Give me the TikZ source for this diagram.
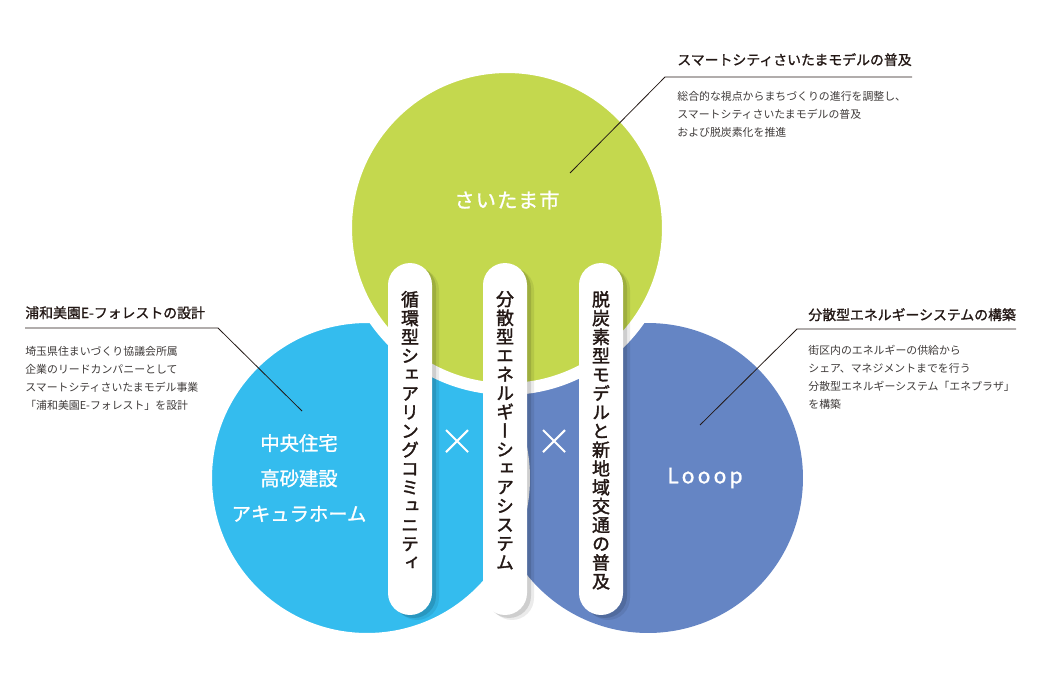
\documentclass[tikz,border=0pt]{standalone}
\usepackage{fontspec}
\setmainfont{Noto Sans CJK JP}
\newfontfamily\vjp[RawFeature=+vert, FakeBold=1.8]{Noto Sans CJK JP}
\newfontfamily\mjp[FakeBold=1.2]{Noto Sans CJK JP}
\usepackage{tikz}
\usetikzlibrary{positioning}
\usetikzlibrary{shapes}

\definecolor{cityGreen}{HTML}{C4D84E}
\definecolor{skyBlue}{HTML}{34BCEE}
\definecolor{looopBlue}{HTML}{6585C4}
\definecolor{textDark}{HTML}{231815}
\definecolor{textGray}{HTML}{3E3A39}

\begin{document}
\begin{tikzpicture}[x=0.02cm, y=-0.02cm]
	\tikzstyle{circ}=[circle, inner sep=0pt]
	\tikzstyle{pill}=[fill=white, rounded corners=0.44cm, minimum width=0.88cm, minimum height=7.04cm,
		preaction={fill=black, opacity=0.08, transform canvas={shift={(7,5)}}},
		preaction={fill=black, opacity=0.12, transform canvas={shift={(4,3)}}}]
	\tikzstyle{pillText}=[align=center, inner sep=0pt, text=textDark, font=\vjp\fontsize{10.2}{10.7}\selectfont]
	\tikzstyle{head}=[inner sep=0pt, anchor=base west, text=textDark, font=\mjp\fontsize{7.9}{9}\selectfont]
	\tikzstyle{body}=[inner sep=0pt, anchor=north west, align=left, text=textGray, font=\fontsize{6.2}{10.2}\selectfont]
	\tikzstyle{circLabel}=[text=white, font=\mjp\fontsize{11}{20.1}\selectfont]
	\tikzstyle{callout}=[draw=textDark, line width=0.45pt]
	\tikzstyle{times}=[white, line width=1.2pt]
	\useasboundingbox (0,0) rectangle (1040,680);

	% circles
	\node[circ, fill=looopBlue, minimum size=6.2cm] (looop) at (648,478) {};
	\node[circ, fill=skyBlue, draw=white, line width=0.16cm, minimum size=6.36cm] (chuo) at (367,478) {};
	\node[circ, fill=cityGreen, draw=white, line width=0.24cm, minimum size=6.44cm] (saitama) at (507,228) {};

	\node[circLabel, font={\mjp\fontsize{11.5}{14}\selectfont\addfontfeature{LetterSpace=6}}] (saitamaLabel) at (507,200) {さいたま市};
	\node[circLabel, align=center] (chuoLabel) at (299,478) {中央住宅\\高砂建設\\アキュラホーム};
	\node[circLabel, font={\mjp\fontsize{12}{14}\selectfont\addfontfeature{LetterSpace=15}}] (looopLabel) at (705,478) {Looop};

	% pills
	\node[pill] (pillA) at (410,439) {};
	\node[pill] (pillB) at (505,439) {};
	\node[pill] (pillC) at (601,439) {};
	\node[pillText, below=0.56cm of pillA.north] (pillAText) {循\\環\\型\\シ\\ェ\\ア\\リ\\ン\\グ\\コ\\ミ\\ュ\\ニ\\テ\\ィ};
	\node[pillText, below=0.56cm of pillB.north] (pillBText) {分\\散\\型\\エ\\ネ\\ル\\ギ\\ー\\シ\\ェ\\ア\\シ\\ス\\テ\\ム};
	\node[pillText, below=0.56cm of pillC.north] (pillCText) {脱\\炭\\素\\型\\モ\\デ\\ル\\と\\新\\地\\域\\交\\通\\の\\普\\及};

	\draw[times] (457,441) +(-11,-11) -- +(11,11) +(-11,11) -- +(11,-11);
	\draw[times] (554,441) +(-11,-11) -- +(11,11) +(-11,11) -- +(11,-11);

	% callouts
	\coordinate (topEnd) at (570,173);
	\coordinate (topKnee) at (665,77);
	\node[head] (topHead) at (677,65) {スマートシティさいたまモデルの普及};
	\node[body] (topBody) at (677,91) {総合的な視点からまちづくりの進行を調整し、\\スマートシティさいたまモデルの普及\\および脱炭素化を推進};
	\draw[callout] (topEnd) -- (topKnee) -- (topKnee -| topHead.east);

	\coordinate (leftEnd) at (302,411);
	\coordinate (leftKnee) at (218,328);
	\node[head] (leftHead) at (25,318) {浦和美園E-フォレストの設計};
	\node[body] (leftBody) at (25,346) {埼玉県住まいづくり協議会所属\\企業のリードカンパニーとして\\スマートシティさいたまモデル事業\\「浦和美園E-フォレスト」を設計};
	\draw[callout] (leftEnd) -- (leftKnee) -- (leftKnee -| leftHead.west);

	\coordinate (rightEnd) at (700,425);
	\coordinate (rightKnee) at (797,329);
	\node[head] (rightHead) at (808,320) {分散型エネルギーシステムの構築};
	\node[body] (rightBody) at (808,345) {街区内のエネルギーの供給から\\シェア、マネジメントまでを行う\\分散型エネルギーシステム「エネプラザ」\\を構築};
	\draw[callout] (rightEnd) -- (rightKnee) -- (rightKnee -| rightHead.east);
\end{tikzpicture}
\end{document}
